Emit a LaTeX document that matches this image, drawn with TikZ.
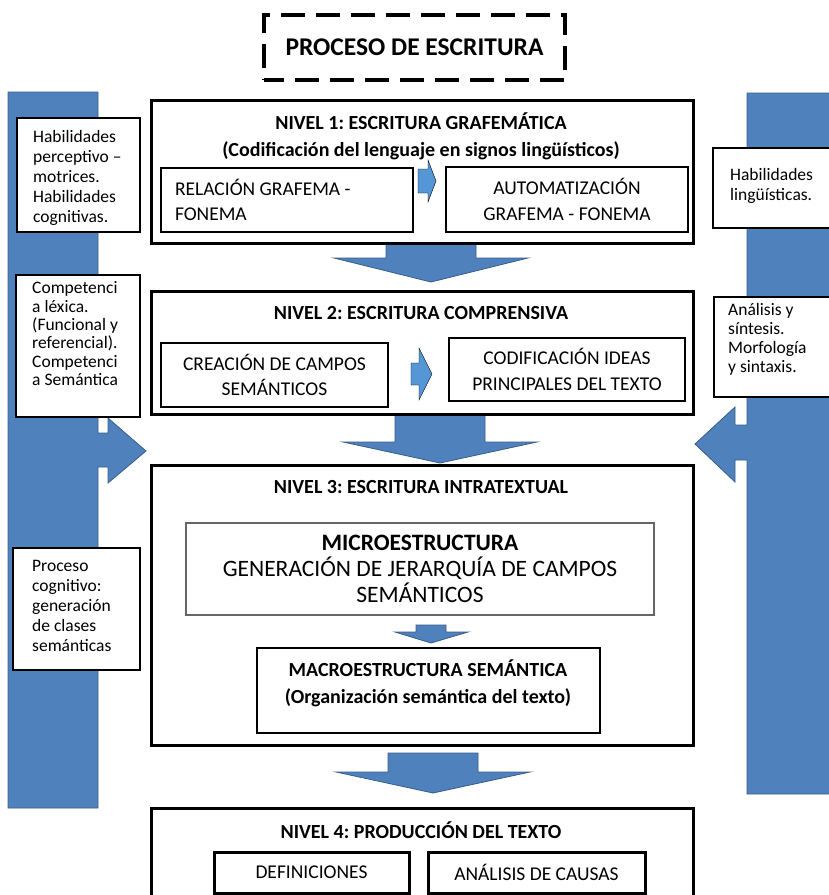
\documentclass[tikz,border=0pt]{standalone}
\usepackage{fontspec}
\setmainfont{Carlito}
\usepackage{tikz}
\frenchspacing

\definecolor{azul}{RGB}{79,129,189}
\definecolor{azulborde}{RGB}{56,93,138}
\definecolor{azulclaro}{RGB}{84,150,214}
\newcommand{\fnivel}{\fontsize{20}{27}\selectfont\bfseries}
\newcommand{\fsub}{\fontsize{19.5}{25.5}\selectfont}
\newcommand{\flado}{\fontsize{17.5}{20}\selectfont}
\newcommand{\fmicro}{\fontsize{23.5}{26}\selectfont}
\tikzset{
	caja/.style={draw, fill=white, anchor=north west, outer sep=0pt, inner sep=0pt},
	nivel/.style={caja, line width=3pt},
	subcaja/.style={caja, line width=2pt, font=\fsub, align=center},
	lado/.style={caja, line width=1.5pt},
	ladotxt/.style={anchor=north west, inner sep=0pt, font=\flado, align=left},
	titulo/.style={font=\fnivel, align=center},
	bloque/.style={fill=azul, draw=azulborde, line width=0.8pt},
	bloquec/.style={fill=azulclaro}
}

\begin{document}
\begin{tikzpicture}[x=1pt, y=-1pt]
			\useasboundingbox (0,0) rectangle (829,895);
			\draw[bloque] (8,92) -- (98,92) -- (98,433) -- (108,433) -- (108,418) -- (146,451) -- (108,483) -- (108,467) -- (98,467) -- (98,808) -- (8,808) -- cycle;
			\draw[bloque] (747,93) -- (835,93) -- (835,794) -- (747,794) -- (747,460) -- (735,460) -- (735,482) -- (695,444) -- (735,407) -- (735,425) -- (747,425) -- cycle;
			\foreach \cx/\ya/\yb/\yc in {431/243/258/282, 440/414/442/463, 433/753/772/793}
				\draw[bloque] (\cx-45,\ya) -- (\cx+45,\ya) -- (\cx+45,\yb) -- (\cx+97,\yb) -- (\cx,\yc) -- (\cx-97,\yb) -- (\cx-45,\yb) -- cycle;
			\node[draw, line width=4pt, dash pattern=on 24pt off 11pt, dash phase=4pt, minimum width=301, minimum height=65, font=\fontsize{25.5}{30}\selectfont\bfseries] (proceso) at (414.5,47.5) {PROCESO DE ESCRITURA};
			\node[nivel, minimum width=542, minimum height=143] (n1) at (151,100) {};
			\node[nivel, minimum width=542, minimum height=123] (n2) at (151,291) {};
			\node[nivel, minimum width=542, minimum height=280] (n3) at (151,465) {};
			\node[nivel, minimum width=542, minimum height=100] (n4) at (151,808) {};
			\node[titulo] (t1) at (421,136.5) {NIVEL 1: ESCRITURA GRAFEMÁTICA\\(Codificación del lenguaje en signos lingüísticos)};
			\node[titulo] (t2) at (421,313) {NIVEL 2: ESCRITURA COMPRENSIVA};
			\node[titulo] (t3) at (421,487) {NIVEL 3: ESCRITURA INTRATEXTUAL};
			\node[titulo] (t4) at (421,830) {NIVEL 4: PRODUCCIÓN DEL TEXTO};
			\node[subcaja, align=flush left, text width=224, inner xsep=14pt, minimum width=252, minimum height=64] (grafema) at (161,168) {RELACIÓN GRAFEMA -\\FONEMA};
			\node[subcaja, minimum width=242, minimum height=65] (automat) at (446,167) {AUTOMATIZACIÓN\\GRAFEMA - FONEMA};
			\node[subcaja, minimum width=227, minimum height=64] (campos) at (161,343) {CREACIÓN DE CAMPOS\\SEMÁNTICOS};
			\node[subcaja, minimum width=236, minimum height=63] (ideas) at (449,338) {CODIFICACIÓN IDEAS\\PRINCIPALES DEL TEXTO};
			\node[caja, draw=black!60, line width=1.2pt, minimum width=468, minimum height=92, font=\fmicro, align=center] (micro) at (186,523) {{\bfseries MICROESTRUCTURA}\\GENERACIÓN DE JERARQUÍA DE CAMPOS\\SEMÁNTICOS};
			\node[caja, line width=1.8pt, minimum width=343, minimum height=85] (macro) at (257,648) {};
			\node[titulo] (macrotxt) at (428,683.5) {MACROESTRUCTURA SEMÁNTICA\\(Organización semántica del texto)};
			\node[subcaja, line width=3pt, minimum width=195, minimum height=41] (defin) at (214,852) {DEFINICIONES};
			\node[subcaja, line width=3pt, minimum width=217, minimum height=41] (causas) at (428,852) {ANÁLISIS DE CAUSAS};
			\draw[bloquec] (418,169) -- (428,169) -- (428,160) -- (436,181) -- (428,202) -- (428,193) -- (418,193) -- cycle;
			\draw[bloquec] (411,363) -- (419,363) -- (419,348) -- (432,374) -- (419,400) -- (419,385) -- (411,385) -- cycle;
			\draw[bloque] (416,625) -- (446,625) -- (446,632) -- (468,632) -- (431,643) -- (395,632) -- (416,632) -- cycle;
			\node[lado, minimum width=123, minimum height=114] (hab1) at (17,118) {};
			\node[lado, minimum width=124, minimum height=142] (comp) at (16,275) {};
			\node[lado, minimum width=127, minimum height=122] (cogn) at (13,548) {};
			\node[lado, minimum width=122, minimum height=80] (hab2) at (713,148) {};
			\node[lado, minimum width=121, minimum height=100] (anal) at (714,297) {};
			\node[ladotxt] (hab1txt) at (33,130.5) {Habilidades\\perceptivo –\\motrices.\\Habilidades\\cognitivas.};
			\node[ladotxt, font=\fontsize{17.5}{18.4}\selectfont] (comptxt) at (32,281.5) {Competenci\\a léxica.\\(Funcional y\\referencial).\\Competenci\\a Semántica};
			\node[ladotxt] (cogntxt) at (32,560.5) {Proceso\\cognitivo:\\generación\\de clases\\semánticas};
			\node[ladotxt] (hab2txt) at (730,168.5) {Habilidades\\lingüísticas.};
			\node[ladotxt, font=\fontsize{17.5}{19}\selectfont] (analtxt) at (728,303.5) {Análisis y\\síntesis.\\Morfología\\y sintaxis.};
\end{tikzpicture}
\end{document}
